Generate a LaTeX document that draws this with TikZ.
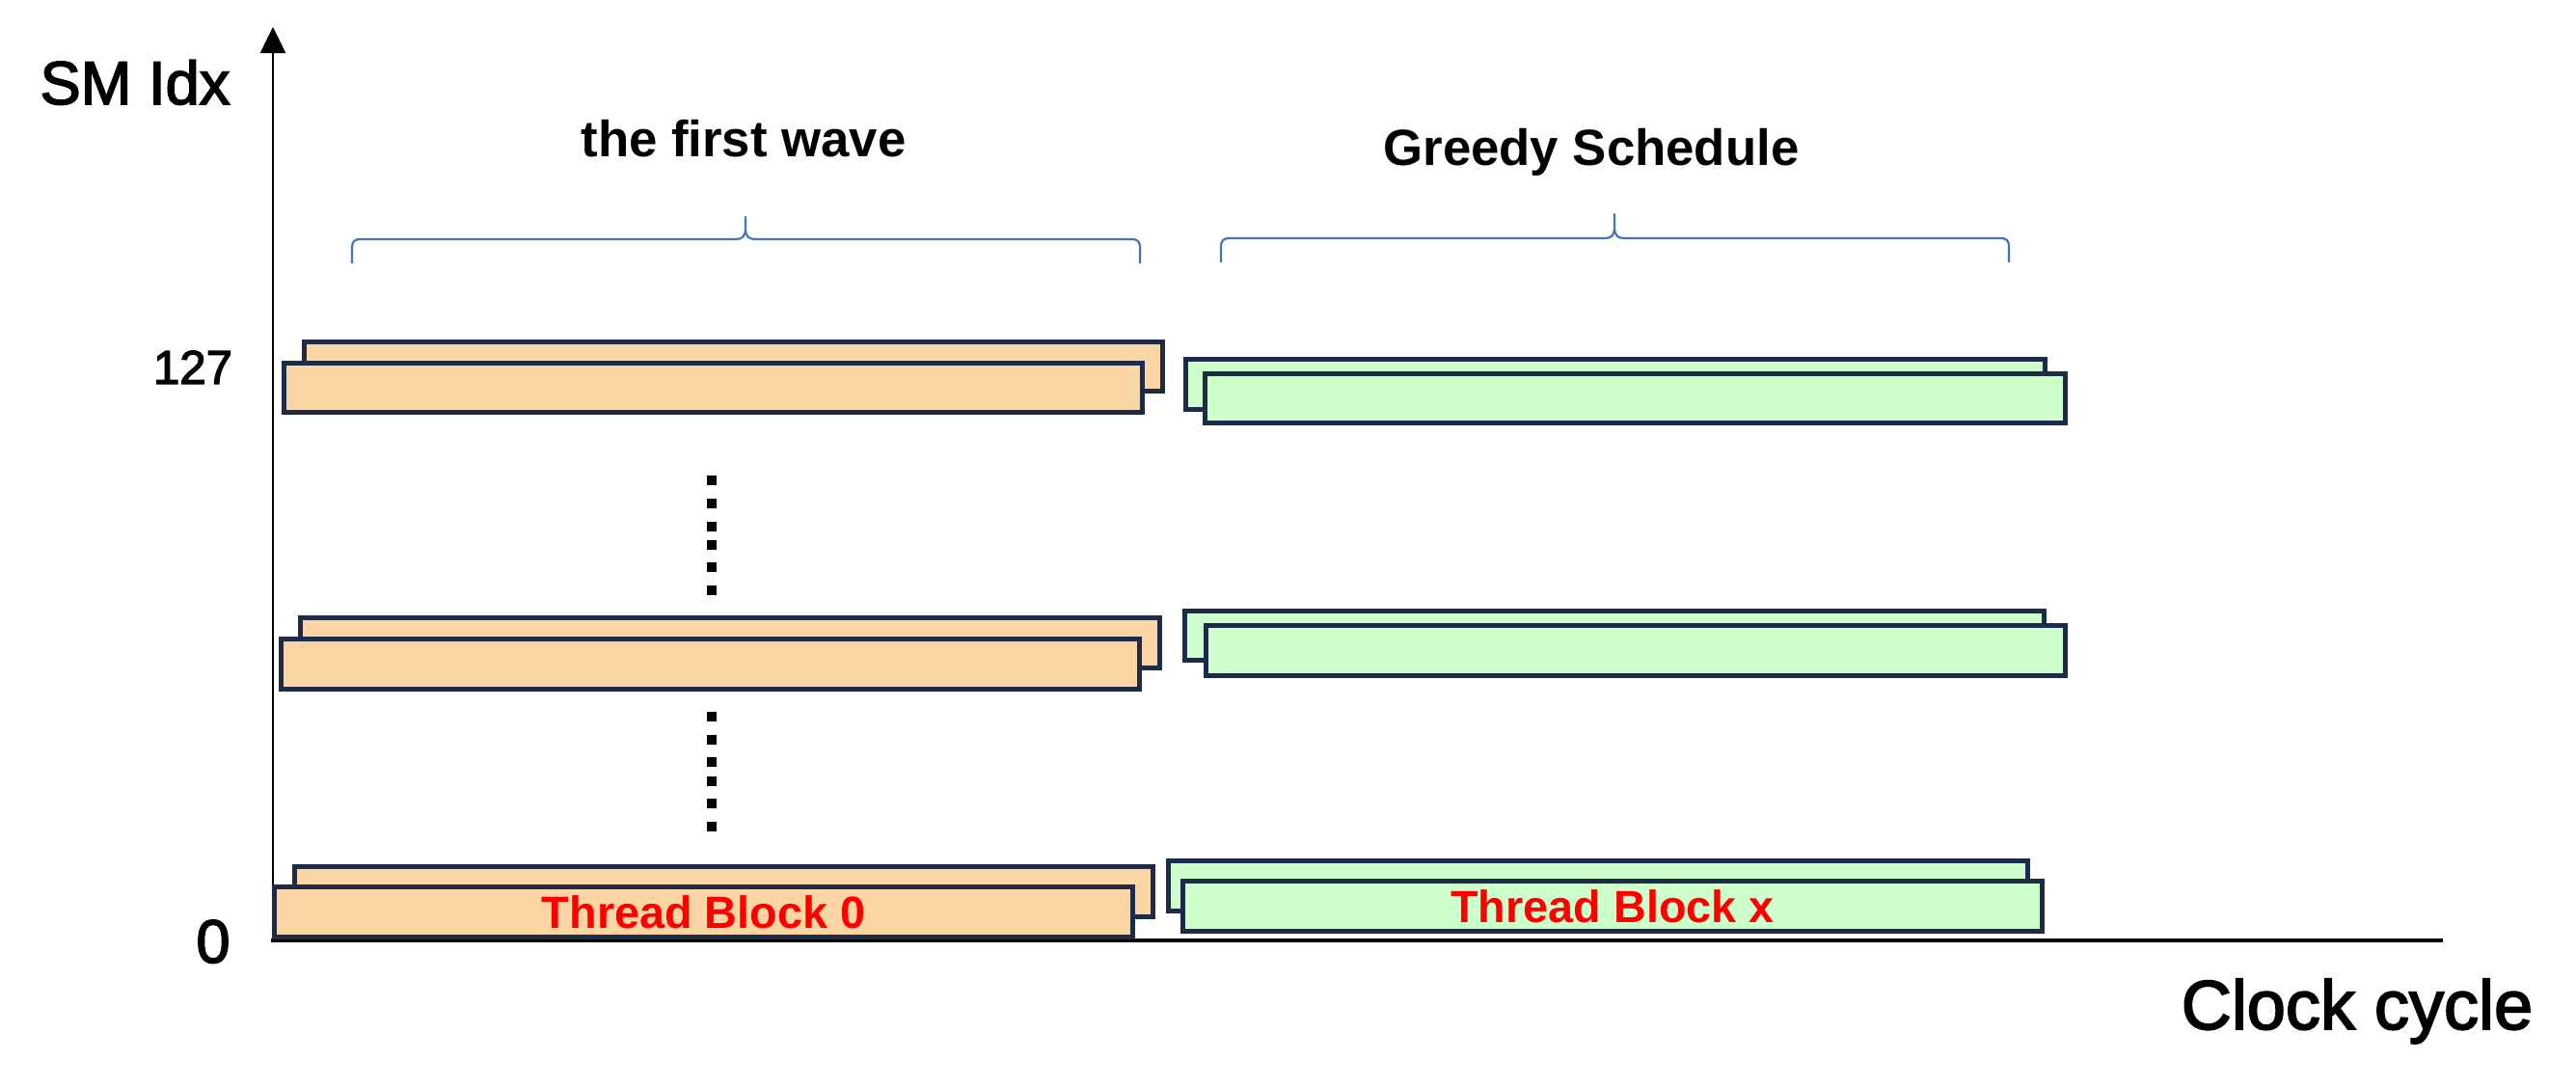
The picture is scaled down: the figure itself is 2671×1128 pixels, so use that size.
\documentclass[tikz,border=0pt]{standalone}
\usepackage{fontspec}
\setmainfont{Liberation Sans}
\newfontfamily\medfont[FakeBold=2.5]{Liberation Sans}
\usetikzlibrary{arrows.meta}
\definecolor{obfill}{HTML}{FCD5A5}
\definecolor{gbfill}{HTML}{CCFFCC}
\definecolor{edgec}{HTML}{1E2B48}
\definecolor{brblue}{HTML}{4472C4}
\begin{document}
\begin{tikzpicture}[x=0.01cm,y=-0.01cm,
  oblk/.style={draw=edgec,fill=obfill,line width=0.05cm,inner sep=0pt,minimum width=8.90cm,minimum height=0.51cm},
  gblk/.style={draw=edgec,fill=gbfill,line width=0.05cm,inner sep=0pt,minimum width=8.91cm,minimum height=0.51cm},
  tblabel/.style={text=red,font=\bfseries\fontsize{13.3}{15}\selectfont},
  brc/.style={draw=brblue,line width=0.022cm,line join=round},
  dotsq/.style={fill=black},
  axis/.style={draw=black},
  lbl/.style={inner sep=0pt}]
\useasboundingbox (0,0) rectangle (2671,1128);
% axes
\coordinate (o) at (283,975);
\coordinate (ytop) at (283,28);
\coordinate (xs) at (281,975);
\coordinate (xe) at (2533,975);
\draw[axis,line width=0.025cm,-{Triangle[length=0.27cm,width=0.26cm]}] (o) -- (ytop);
\draw[axis,line width=0.045cm] (xs) -- (xe);
% braces
\draw[brc] (365,273) -- (365,258) .. controls (365,250) and (367,248) .. (375,248) -- (763,248) .. controls (770,248) and (773,245) .. (773,236) -- (773,225) -- (773,236) .. controls (773,245) and (776,248) .. (783,248) -- (1172,248) .. controls (1180,248) and (1182,250) .. (1182,258) -- (1182,273);
\draw[brc] (1266,272) -- (1266,257) .. controls (1266,249) and (1268,247) .. (1276,247) -- (1664,247) .. controls (1671,247) and (1674,244) .. (1674,235) -- (1674,222) -- (1674,235) .. controls (1674,244) and (1677,247) .. (1684,247) -- (2073,247) .. controls (2081,247) and (2083,249) .. (2083,257) -- (2083,272);
% top row
\node[oblk] (ob1) at (760.5,380) {};
\node[oblk] (of1) at (739.5,402) {};
\node[gblk] (gb1) at (1675,398.5) {};
\node[gblk] (gf1) at (1695.5,413) {};
% middle row
\node[oblk] (ob2) at (757,666.5) {};
\node[oblk] (of2) at (736.5,688.5) {};
\node[gblk] (gb2) at (1674,659) {};
\node[gblk] (gf2) at (1696,674.5) {};
% bottom row
\node[oblk] (ob3) at (750.5,924.5) {};
\node[oblk,tblabel] (of3) at (729.5,945.5) {Thread Block 0};
\node[gblk] (gb3) at (1657,918.5) {};
\node[gblk,tblabel] (gf3) at (1672,939.5) {Thread Block x};
% dots
\foreach \yy in {498,522,546,565,588,612,743,767,790,810,833,857}
  \fill[dotsq] (733,{\yy-5}) rectangle (743,{\yy+5});
% labels
\node[lbl,anchor=base,font=\medfont\fontsize{18}{20}\selectfont] (smidx) at (140,108) {SM Idx};
\node[lbl,anchor=base,font=\bfseries\fontsize{15}{17}\selectfont] (fw) at (771,163) {the first wave};
\node[lbl,anchor=base,font=\bfseries\fontsize{15}{17}\selectfont] (gs) at (1650,172) {Greedy Schedule};
\node[lbl,anchor=base,font=\medfont\fontsize{14}{16}\selectfont] (t127) at (200,398) {127};
\node[lbl,anchor=base,font=\medfont\fontsize{18}{20}\selectfont] (t0) at (221,998) {0};
\node[lbl,anchor=base,font=\medfont\fontsize{20.5}{23}\selectfont] (cc) at (2444,1067) {Clock cycle};
\end{tikzpicture}
\end{document}
